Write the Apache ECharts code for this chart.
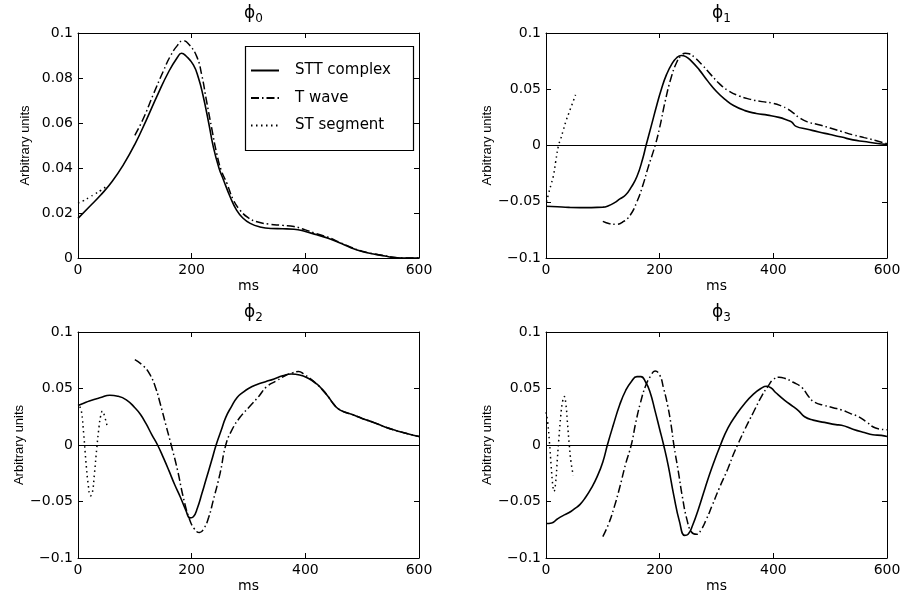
<!DOCTYPE html>
<html><head><meta charset="utf-8">
<script src="https://cdn.jsdelivr.net/npm/echarts/dist/echarts.min.js"></script>
<style>html,body{margin:0;padding:0;background:#fff}#c{width:913px;height:596px}</style>
</head><body><div id="c"></div>
<script>
// ---------------- data ----------------
const panelSubscripts = ['0', '1', '2', '3'];
const seriesNames = ['STT complex', 'T wave', 'ST segment'];
const xAxisName = 'ms';
const yAxisName = 'Arbitrary units';
const xTickLabels = ['0', '200', '400', '600'];
const yTickLabelsPhi0 = ['0', '0.02', '0.04', '0.06', '0.08', '0.1'];
const yTickLabelsOther = ['\u22120.1', '\u22120.05', '0', '0.05', '0.1'];

// phi 0
const phi0Stt = [[0,0.0176],[20,0.0228],[40,0.028],[60,0.0340],[80,0.0415],[100,0.0505],[120,0.0612],[140,0.0725],[160,0.0830],[175,0.0892],[182,0.0910],[190,0.0898],[203,0.0858],[212,0.0800],[220,0.0722],[230,0.0600],[238,0.0495],[248,0.0400],[256,0.0347],[268,0.0270],[279,0.0213],[290,0.0178],[303,0.0154],[320,0.0138],[340,0.0131],[360,0.0130],[380,0.0128],[400,0.0118],[420,0.0103],[440,0.0088],[460,0.0068],[480,0.0046],[500,0.0029],[520,0.0018],[540,0.0009],[555,0.0002],[570,0],[600,0]];
const phi0TWave = [[100,0.0545],[115,0.0620],[132,0.0724],[150,0.0830],[162,0.0895],[175,0.0945],[185,0.0966],[195,0.0950],[209,0.0895],[218,0.0810],[226,0.0700],[235,0.0580],[244,0.0465],[252,0.0390],[262,0.0332],[273,0.0260],[285,0.0213],[300,0.0178],[315,0.0161],[335,0.0151],[360,0.0145],[380,0.0140],[400,0.0125],[420,0.0108],[440,0.0092],[460,0.0070],[480,0.0048],[500,0.0030],[520,0.0019],[540,0.0010],[555,0.0003],[570,0],[600,0]];
const phi0St = [[0,0.0245],[10,0.0255],[20,0.0270],[30,0.0285],[40,0.0300],[48,0.0315]];

// phi 1
const phi1Stt = [[0,-0.0540],[20,-0.0545],[40,-0.0550],[60,-0.0552],[80,-0.0552],[100,-0.0548],[110,-0.0535],[120,-0.0510],[130,-0.0475],[140,-0.0440],[150,-0.0370],[160,-0.0276],[170,-0.0120],[176,0],[185,0.0170],[195,0.0360],[203,0.0500],[212,0.0630],[222,0.0730],[230,0.0780],[238,0.0800],[246,0.0790],[255,0.0755],[270,0.0670],[285,0.0570],[300,0.0480],[315,0.0410],[330,0.0355],[350,0.0310],[370,0.0285],[390,0.0270],[410,0.0250],[425,0.0225],[432,0.0210],[440,0.0170],[460,0.0145],[480,0.0120],[500,0.0098],[520,0.0075],[540,0.0050],[560,0.0035],[580,0.0020],[600,0.0010]];
const phi1TWave = [[100,-0.0675],[112,-0.0695],[123,-0.0700],[135,-0.0680],[148,-0.0620],[160,-0.0500],[170,-0.0360],[180,-0.0190],[192,0],[200,0.0160],[210,0.0400],[220,0.0600],[230,0.0740],[238,0.0800],[245,0.0820],[252,0.0815],[262,0.0780],[275,0.0715],[290,0.0630],[305,0.0550],[320,0.0490],[340,0.0440],[360,0.0410],[380,0.0390],[400,0.0375],[415,0.0350],[425,0.0325],[435,0.0290],[445,0.0250],[460,0.0210],[480,0.0185],[500,0.0155],[520,0.0125],[540,0.0095],[560,0.0070],[580,0.0045],[600,0.0015]];
const phi1St = [[1,-0.0500],[5,-0.0420],[9,-0.0345],[13,-0.0270],[17,-0.0145],[22,0],[26,0.0060],[30,0.0130],[36,0.0230],[40,0.0285],[44,0.0340],[48,0.0395],[52,0.0450]];

// phi 2
const phi2Stt = [[0,0.0350],[10,0.0370],[20,0.0390],[40,0.0420],[56,0.0440],[70,0.0432],[85,0.0400],[100,0.0330],[110,0.0270],[120,0.0186],[130,0.0090],[140,0],[150,-0.0110],[160,-0.0227],[170,-0.0350],[180,-0.0460],[190,-0.0580],[197,-0.0645],[203,-0.0635],[210,-0.0560],[218,-0.0430],[225,-0.0310],[235,-0.0140],[243,0],[252,0.0130],[260,0.0245],[270,0.0340],[280,0.0420],[290,0.0465],[300,0.0500],[315,0.0535],[330,0.0560],[345,0.0585],[360,0.0612],[375,0.0628],[390,0.0620],[405,0.0590],[420,0.0540],[430,0.0490],[440,0.0430],[450,0.0360],[458,0.0320],[470,0.0290],[480,0.0274],[500,0.0235],[520,0.0200],[540,0.0160],[560,0.0127],[580,0.0100],[600,0.0075]];
const phi2TWave = [[100,0.0755],[115,0.0700],[127,0.0620],[137,0.0500],[145,0.0360],[155,0.0170],[164,0],[175,-0.0220],[185,-0.0457],[195,-0.0640],[204,-0.0737],[214,-0.0775],[222,-0.0735],[230,-0.0640],[238,-0.0490],[250,-0.0250],[260,0],[270,0.0125],[285,0.0245],[302,0.0340],[318,0.0430],[332,0.0516],[350,0.0570],[365,0.0615],[378,0.0640],[388,0.0650],[398,0.0625],[408,0.0590],[420,0.0540],[430,0.0490],[440,0.0430],[450,0.0360],[458,0.0320],[470,0.0290],[480,0.0274],[500,0.0235],[520,0.0200],[540,0.0160],[560,0.0127],[580,0.0100],[600,0.0075]];
const phi2St = [[3,0.0340],[6,0.0300],[10,0.0100],[14,-0.0150],[18,-0.0350],[22,-0.0450],[25,-0.0430],[29,-0.0250],[33,-0.0030],[37,0.0160],[40,0.0260],[43,0.0300],[47,0.0250],[52,0.0150]];

// phi 3
const phi3Stt = [[0,-0.0695],[10,-0.0690],[20,-0.0655],[30,-0.0625],[40,-0.0600],[50,-0.0565],[60,-0.0525],[70,-0.0460],[80,-0.0380],[90,-0.0280],[100,-0.0150],[108,0],[118,0.0170],[130,0.0360],[140,0.0480],[150,0.0560],[160,0.0605],[167,0.0605],[175,0.0560],[183,0.0470],[192,0.0300],[200,0.0140],[207,0],[215,-0.0180],[225,-0.0450],[235,-0.0680],[244,-0.0800],[250,-0.0790],[258,-0.0710],[268,-0.0570],[280,-0.0380],[292,-0.0200],[307,0],[320,0.0150],[335,0.0270],[350,0.0370],[365,0.0450],[378,0.0500],[388,0.0520],[396,0.0505],[405,0.0460],[420,0.0395],[435,0.0340],[445,0.0300],[455,0.0250],[470,0.0220],[490,0.0200],[510,0.0180],[520,0.0175],[540,0.0140],[560,0.0110],[575,0.0090],[590,0.0085],[600,0.0075]];
const phi3TWave = [[100,-0.0810],[110,-0.0700],[120,-0.0550],[130,-0.0370],[140,-0.0170],[150,0],[158,0.0200],[166,0.0370],[175,0.0520],[184,0.0610],[192,0.0655],[200,0.0620],[207,0.0500],[214,0.0350],[220,0.0180],[225,0],[233,-0.0240],[240,-0.0460],[248,-0.0660],[256,-0.0770],[265,-0.0790],[273,-0.0750],[282,-0.0660],[292,-0.0540],[305,-0.0380],[320,-0.0210],[330,-0.0080],[337,0],[350,0.0140],[365,0.0290],[380,0.0437],[392,0.0530],[400,0.0580],[410,0.0600],[420,0.0590],[435,0.0555],[450,0.0510],[462,0.0430],[472,0.0380],[490,0.0350],[505,0.0330],[520,0.0310],[535,0.0280],[550,0.0250],[565,0.0200],[580,0.0150],[600,0.0135]];
const phi3St = [[0,0.0290],[3,0.0200],[6,0.0030],[9,-0.0180],[12,-0.0360],[14,-0.0410],[17,-0.0330],[20,-0.0120],[23,0.0080],[26,0.0260],[29,0.0380],[32,0.0430],[35,0.0360],[38,0.0180],[41,0],[44,-0.0150],[48,-0.0270]];

const panelData = [
  [phi0Stt, phi0TWave, phi0St],
  [phi1Stt, phi1TWave, phi1St],
  [phi2Stt, phi2TWave, phi2St],
  [phi3Stt, phi3TWave, phi3St]
];

// ---------------- layout / style ----------------
const grids = [
  {left: 78, top: 33, width: 341, height: 225},
  {left: 546, top: 33, width: 341, height: 225},
  {left: 78, top: 332, width: 341, height: 226},
  {left: 546, top: 332, width: 341, height: 226}
];
const yRanges = [
  {min: 0, max: 0.1, interval: 0.02, labels: yTickLabelsPhi0},
  {min: -0.1, max: 0.1, interval: 0.05, labels: yTickLabelsOther},
  {min: -0.1, max: 0.1, interval: 0.05, labels: yTickLabelsOther},
  {min: -0.1, max: 0.1, interval: 0.05, labels: yTickLabelsOther}
];
const FONT = 'DejaVu Sans';
const lineStyles = [
  {color: '#000', width: 1.6, type: 'solid'},
  {color: '#000', width: 1.5, type: [8, 3, 1.5, 3]},
  {color: '#000', width: 1.5, type: [1.5, 3.5]}
];

const xAxes = [], yAxes = [], series = [], titles = [];
grids.forEach((g, i) => {
  const yr = yRanges[i];
  const common = {
    type: 'value', gridIndex: i, splitLine: {show: false},
    axisLine: {show: true, onZero: false, lineStyle: {color: '#000', width: 1}},
    axisTick: {show: true, inside: true, length: 5, lineStyle: {color: '#000'}}
  };
  xAxes.push(Object.assign({}, common, {
    position: 'bottom', min: 0, max: 600, interval: 200,
    name: xAxisName, nameLocation: 'middle', nameGap: 21,
    nameTextStyle: {fontFamily: FONT, fontSize: 14, color: '#000'},
    axisLabel: {show: true, margin: 5, fontFamily: FONT, fontSize: 14, color: '#000',
      formatter: v => xTickLabels[Math.round(v / 200)]}
  }));
  xAxes.push(Object.assign({}, common, {
    position: 'top', min: 0, max: 600, interval: 200, axisLabel: {show: false}
  }));
  yAxes.push(Object.assign({}, common, {
    position: 'left', min: yr.min, max: yr.max, interval: yr.interval,
    name: yAxisName, nameLocation: 'middle', nameGap: 46, nameRotate: 90,
    nameTextStyle: {fontFamily: 'Liberation Sans', fontSize: 13, color: '#000'},
    axisLabel: {show: true, margin: 5, fontFamily: FONT, fontSize: 14, color: '#000',
      formatter: v => yr.labels[Math.round((v - yr.min) / yr.interval)]}
  }));
  yAxes.push(Object.assign({}, common, {
    position: 'right', min: yr.min, max: yr.max, interval: yr.interval, axisLabel: {show: false}
  }));
  panelData[i].forEach((data, k) => {
    const s = {
      type: 'line', name: seriesNames[k], data: data,
      xAxisIndex: 2 * i, yAxisIndex: 2 * i,
      showSymbol: false, symbol: 'none', smooth: true,
      lineStyle: lineStyles[k], itemStyle: {color: '#000'},
      emphasis: {disabled: true}, silent: true, z: 3 - k
    };
    if (k === 0 && i > 0) {
      s.markLine = {
        silent: true, symbol: ['none', 'none'], label: {show: false},
        lineStyle: {color: '#000', type: 'solid', width: 1.2},
        emphasis: {disabled: true},
        data: [{yAxis: 0}]
      };
    }
    series.push(s);
  });
  titles.push({
    text: '{p|\u03D5}{s|' + panelSubscripts[i] + '}',
    left: g.left + g.width / 2, top: g.top - 35, textAlign: 'center',
    textStyle: {
      fontWeight: 'normal',
      rich: {
        p: {fontFamily: FONT, fontSize: 17, fontWeight: 'normal', color: '#000', lineHeight: 22},
        s: {fontFamily: FONT, fontSize: 12, fontWeight: 'normal', color: '#000', lineHeight: 12, verticalAlign: 'bottom'}
      }
    }
  });
});

const chart = echarts.init(document.getElementById('c'), null, {renderer: 'canvas'});
chart.setOption({
  animation: false,
  backgroundColor: '#fff',
  title: titles,
  grid: grids.map(g => Object.assign({outerBoundsMode: 'none', containLabel: false}, g)),
  xAxis: xAxes,
  yAxis: yAxes,
  legend: {
    data: seriesNames, orient: 'vertical', left: 243, top: 44,
    padding: [19, 0, 0, 7], itemWidth: 28, itemHeight: 14, itemGap: 12.5,
    selectedMode: false,
    itemStyle: {opacity: 0},
    textStyle: {fontFamily: FONT, fontSize: 15, color: '#000', padding: [0, 0, 0, 11]}
  },
  graphic: [{
    type: 'rect', left: 243, top: 44, z: 100, silent: true,
    shape: {width: 168, height: 104},
    style: {fill: 'none', stroke: '#000', lineWidth: 1.2}
  }],
  series: series
});
</script></body></html>
